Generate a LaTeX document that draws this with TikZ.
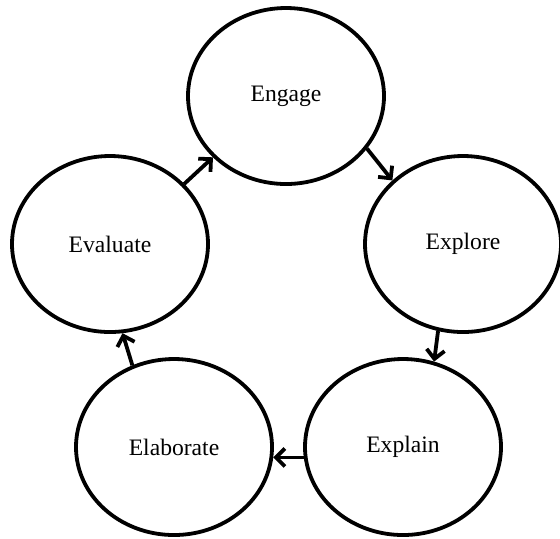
\documentclass[tikz,border=0pt]{standalone}
\usepackage{fontspec}
\setmainfont{Liberation Serif}
\usetikzlibrary{%
  arrows.meta,%
  shapes,%
  positioning,% wg. " of "
  calc
}

\begin{document}
\begin{tikzpicture}
[x=0.5pt, y=-0.5pt, font=\fontsize{11.8}{14}\selectfont, line width=1.9pt,
phase/.style={ellipse, draw=black, minimum width=98pt, minimum height=88pt, inner sep=0pt},
cycleArrow/.style={-{Straight Barb[length=4.5pt,width=9pt,line width=1.9pt]}}
]

\useasboundingbox (0,0) rectangle (560,538);

% Phase Nodes
\foreach \n/\x/\y/\t in {engage/286/96/Engage, explore/463/244/Explore,
  explain/403/447/Explain, elaborate/174/447/Elaborate, evaluate/110/244/Evaluate} {
  \node[phase] (\n) at (\x,\y) {\t};
}

% Cycle Edges
\draw[cycleArrow] (evaluate.39) -- (engage.220);
\draw[cycleArrow] (engage.327) -- (explore.138);
\draw[cycleArrow] (explore.254) -- (explain.70);
\draw[cycleArrow] (explain.186) -- (elaborate.354);
\draw[cycleArrow] (elaborate.117) -- (evaluate.278);
\end{tikzpicture}
\end{document}
